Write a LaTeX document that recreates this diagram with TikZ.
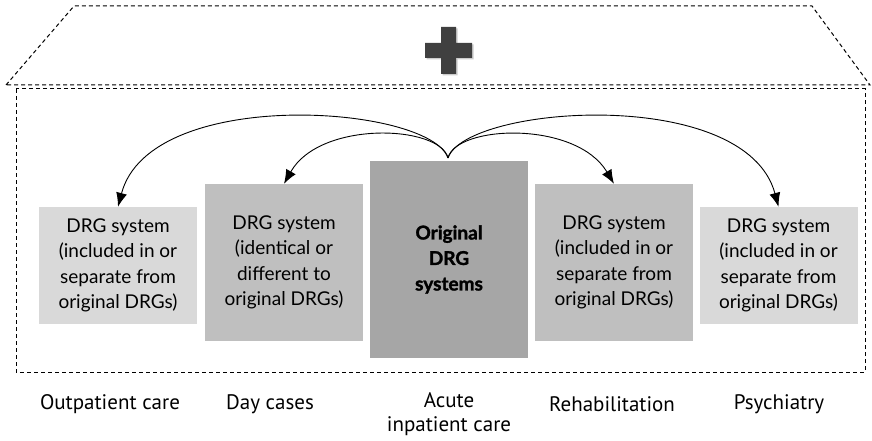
\documentclass[tikz,border=0pt]{standalone}
\usepackage{fontspec}
\setmainfont{Lato}
\newfontfamily\labelfont{PT Sans}
\newfontfamily\heavyfont{Lato}[BoldFeatures={FakeBold=1.6}]
\usetikzlibrary{arrows.meta}

\definecolor{lightbox}{HTML}{D9D9D9}
\definecolor{midbox}{HTML}{BFBFBF}
\definecolor{darkbox}{HTML}{A6A6A6}
\definecolor{crossgray}{HTML}{404040}

\begin{document}
\begin{tikzpicture}[x=1pt,y=-1pt,
        outline/.style={dash pattern=on 4pt off 3pt, line width=1pt},
        drgbox/.style={minimum width=158pt, align=center, inner sep=0pt,
            font=\fontsize{19}{25.5}\selectfont},
        caption/.style={align=center, font=\labelfont\fontsize{21}{24}\selectfont},
        flow/.style={line width=0.9pt, -{Latex[length=14pt,width=11pt]}}]
        \useasboundingbox (0,0) rectangle (872,441);

        % hospital roof and walls
        \draw[outline] (6,85) -- (74,6) -- (812,6) -- (870,85) -- cycle;
        \draw[outline] (16,89) rectangle (865,372);

        % cross on the roof
        \fill[gray!40] (442.5,28.5) -- ++(15,0) -- ++(0,16) -- ++(16,0) -- ++(0,15)
            -- ++(-16,0) -- ++(0,16) -- ++(-15,0) -- ++(0,-16) -- ++(-16,0)
            -- ++(0,-15) -- ++(16,0) -- cycle;
        \fill[crossgray] (441,27) -- ++(15,0) -- ++(0,16) -- ++(16,0) -- ++(0,15)
            -- ++(-16,0) -- ++(0,16) -- ++(-15,0) -- ++(0,-16) -- ++(-16,0)
            -- ++(0,-15) -- ++(16,0) -- cycle;

        % DRG systems
        \node[drgbox, fill=lightbox, minimum height=117pt] (outpat) at (118,265.5)
            {DRG system\\(included in or\\separate from\\original DRGs)};
        \node[drgbox, fill=midbox, minimum height=157pt] (daycase) at (284,262.5)
            {DRG system\\(identical or\\different to\\original DRGs)};
        \node[drgbox, fill=darkbox, minimum height=197pt,
            font=\heavyfont\fontsize{19}{25.5}\selectfont\bfseries] (acute) at (449,259.5)
            {Original\\DRG\\systems};
        \node[drgbox, fill=midbox, minimum height=157pt] (rehab) at (614,262.5)
            {DRG system\\(included in or\\separate from\\original DRGs)};
        \node[drgbox, fill=lightbox, minimum height=117pt] (psych) at (778.5,265.5)
            {DRG system\\(included in or\\separate from\\original DRGs)};

        % sectors
        \node[caption] (outpatlabel) at (110,404) {Outpatient care};
        \node[caption] (daycaselabel) at (270,404) {Day cases};
        \node[caption] (acutelabel) at (449,414) {Acute\\inpatient care};
        \node[caption] (rehablabel) at (612,404) {Rehabilitation};
        \node[caption] (psychlabel) at (779,404) {Psychiatry};

        % arrows out of the original system
        \coordinate (src) at (448,158);
        \draw[flow] (src) .. controls (430,105) and (150,85) .. (outpat.north);
        \draw[flow] (src) .. controls (440,125) and (320,120) .. (daycase.north);
        \draw[flow] (src) .. controls (456,125) and (576,120) .. (rehab.north);
        \draw[flow] (src) .. controls (466,105) and (746,85) .. (psych.north);
\end{tikzpicture}
\end{document}
